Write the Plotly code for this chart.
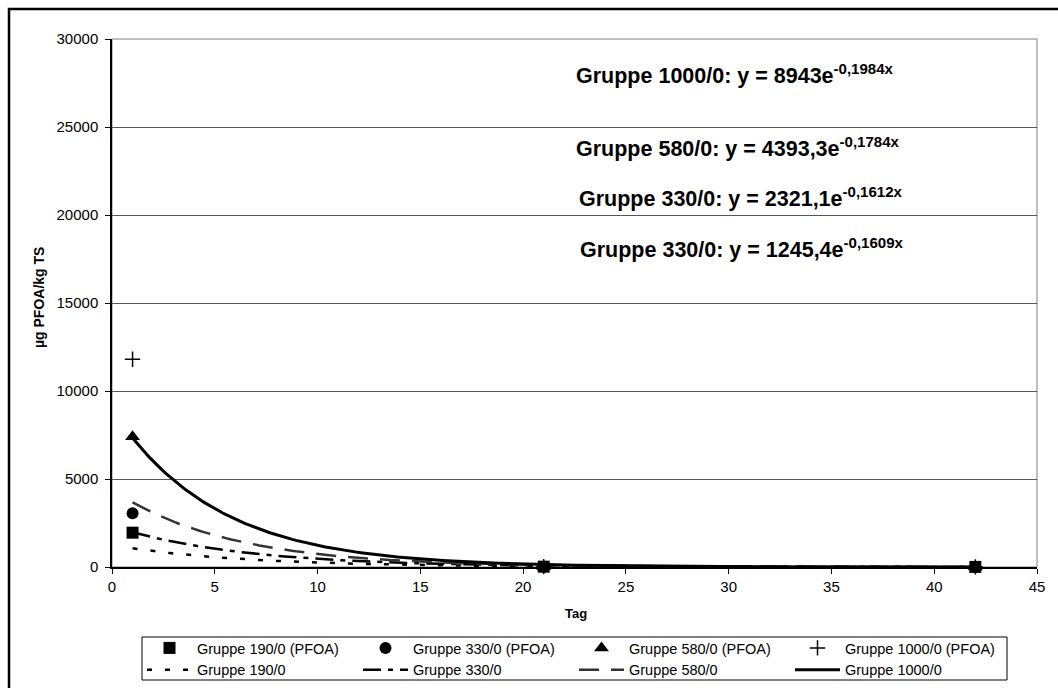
import numpy as np
import plotly.graph_objects as go

# Sampling days and measured PFOA content (µg/kg TS)
days = [1, 21, 42]
g190 = [1950, 20, 5]
g330 = [3050, 20, 5]
g580 = [7400, 20, 5]
g1000 = [11800, 20, 5]

# Exponential fits y = a * exp(b * x)
fit_names = ["Gruppe 190/0", "Gruppe 330/0", "Gruppe 580/0", "Gruppe 1000/0"]
fit_a = [1245.4, 2321.1, 4393.3, 8943.0]
fit_b = [-0.1609, -0.1612, -0.1784, -0.1984]
fit_dash = ["5px,13px", "18px,7px,5px,7px", "20px,12px", "solid"]
fit_color = ["#000000", "#000000", "#333333", "#000000"]
fit_width = [2.5, 2.5, 2.5, 3]

# Equation labels as printed on the chart
eq_labels = [
    "Gruppe 1000/0: y = 8943e<sup>-0,1984x</sup>",
    "Gruppe 580/0: y = 4393,3e<sup>-0,1784x</sup>",
    "Gruppe 330/0: y = 2321,1e<sup>-0,1612x</sup>",
    "Gruppe 330/0: y = 1245,4e<sup>-0,1609x</sup>",
]

FONT = "Liberation Sans, Arial, sans-serif"
L, T, R, B = 112, 39, 1037, 567
W, H = 1058, 688


def px_x(p):
    return (p - L) / (R - L)


def px_y(p):
    return (B - p) / (B - T)


fig = go.Figure()

xs = np.linspace(min(days), max(days), 300)
for i, name in enumerate(fit_names):
    fig.add_trace(go.Scatter(
        x=xs, y=fit_a[i] * np.exp(fit_b[i] * xs), mode="lines", name=name,
        line=dict(color=fit_color[i], width=fit_width[i], dash=fit_dash[i]),
        legendrank=100 + i,
    ))

markers = [
    ("Gruppe 1000/0 (PFOA)", g1000, "cross-thin", 11, 4),
    ("Gruppe 580/0 (PFOA)", g580, "triangle-up", 13, 3),
    ("Gruppe 330/0 (PFOA)", g330, "circle", 12, 2),
    ("Gruppe 190/0 (PFOA)", g190, "square", 12, 1),
]
for name, vals, sym, size, rank in markers:
    mk = dict(symbol=sym, size=size, color="black")
    if sym == "cross-thin":
        mk["line"] = dict(color="black", width=1.5)
    fig.add_trace(go.Scatter(
        x=days, y=vals, mode="markers", name=name, marker=mk, legendrank=rank,
        cliponaxis=False,
    ))

annotations = []
eq_y = [74, 147, 197, 248]
eq_x = [735, 738, 741, 742]
for txt, yy, xx in zip(eq_labels, eq_y, eq_x):
    annotations.append(dict(
        text="<b>" + txt + "</b>", xref="paper", yref="paper",
        x=px_x(xx), y=px_y(yy), xanchor="center", yanchor="middle",
        showarrow=False, font=dict(family=FONT, size=21.5, color="black"),
    ))
annotations.append(dict(
    text="<b>Tag</b>", xref="paper", yref="paper", x=px_x(576), y=px_y(613),
    xanchor="center", yanchor="middle", showarrow=False,
    font=dict(family=FONT, size=13, color="black"),
))
annotations.append(dict(
    text="<b>µg PFOA/kg TS</b>", xref="paper", yref="paper", x=px_x(39), y=px_y(298),
    xanchor="center", yanchor="middle", showarrow=False, textangle=-90,
    font=dict(family=FONT, size=14, color="black"),
))

shapes = [
    # plot area outline (right edge shows grey)
    dict(type="rect", xref="paper", yref="paper", x0=0, x1=1, y0=0, y1=1,
         line=dict(color="#808080", width=1), layer="below"),
    # chart frame
    dict(type="rect", xref="paper", yref="paper",
         x0=px_x(9), x1=px_x(1065), y0=px_y(695), y1=px_y(9),
         line=dict(color="black", width=2.5)),
    # legend box
    dict(type="rect", xref="paper", yref="paper",
         x0=px_x(142), x1=px_x(1007), y0=px_y(680), y1=px_y(637),
         line=dict(color="black", width=1), fillcolor="white", layer="below"),
]

fig.update_layout(
    width=W, height=H,
    margin=dict(l=L, r=W - R, t=T, b=H - B, autoexpand=False),
    paper_bgcolor="white", plot_bgcolor="white",
    font=dict(family=FONT, size=14, color="black"),
    showlegend=True,
    legend=dict(
        orientation="h", x=px_x(142), y=px_y(632), xanchor="left", yanchor="top",
        entrywidth=156, entrywidthmode="pixels",
        borderwidth=0, bgcolor="rgba(0,0,0,0)",
        font=dict(family=FONT, size=14.5, color="black"),
        tracegroupgap=0, itemwidth=45,
    ),
    annotations=annotations,
    shapes=shapes,
    xaxis=dict(
        range=[0, 45], dtick=5, tick0=0, showgrid=False, zeroline=False,
        showline=True, linecolor="black", linewidth=1.5,
        ticks="outside", ticklen=5, tickcolor="black",
        tickfont=dict(family=FONT, size=15, color="black"),
    ),
    yaxis=dict(
        range=[0, 30000], dtick=5000, tick0=0, showgrid=True,
        gridcolor="#555555", gridwidth=1, zeroline=False,
        showline=True, linecolor="black", linewidth=1.5,
        ticks="outside", ticklen=5, tickcolor="black", ticklabelstandoff=4,
        tickfont=dict(family=FONT, size=15, color="black"),
        tickformat="d",
    ),
)

fig.write_html("out.html")
